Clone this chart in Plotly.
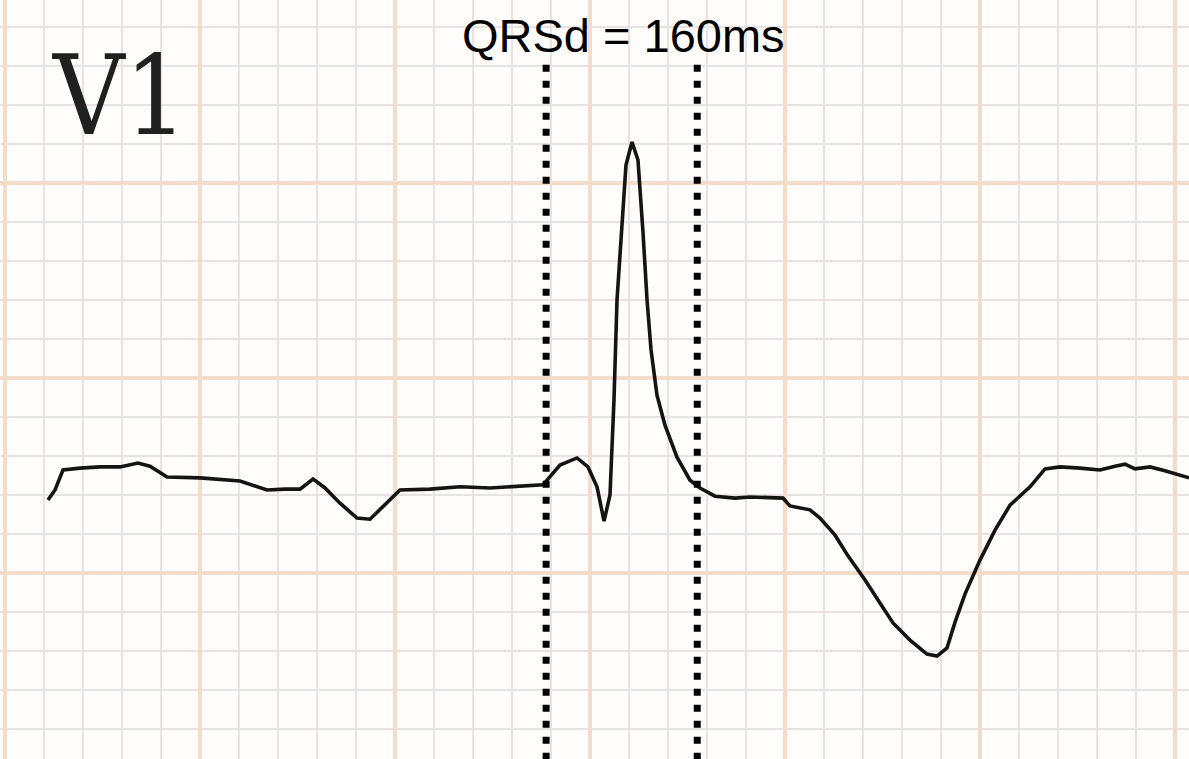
import plotly.graph_objects as go

# ECG lead V1 trace: time in ms, amplitude in mV
time_ms = [44.1, 51.3, 59.5, 76.9, 97.4, 117.9, 136.4, 148.7, 166.2, 200.0,
           241.0, 268.7, 287.2, 302.6, 315.9, 328.2, 343.6, 361.0, 374.4, 389.7,
           405.1, 435.9, 466.7, 497.4, 528.2, 551.8, 569.2, 586.7, 597.9, 607.2,
           614.4, 620.5, 624.6, 627.7, 631.8, 636.9, 643.1, 649.2, 654.4, 658.5,
           662.6, 668.7, 676.9, 689.2, 702.6, 712.8, 728.2, 748.7, 764.1, 797.9,
           805.1, 825.6, 835.9, 851.3, 864.6, 882.1, 897.4, 910.8, 928.2, 945.6,
           955.9, 966.2, 974.4, 984.6, 1000.0, 1015.4, 1030.8, 1051.3, 1066.7, 1082.1,
           1102.6, 1123.1, 1138.5, 1148.7, 1159.0, 1174.4, 1189.7, 1214.4]
amp_mv = [-0.313, -0.287, -0.236, -0.231, -0.228, -0.228, -0.218, -0.226, -0.254, -0.256,
          -0.264, -0.287, -0.285, -0.285, -0.259, -0.282, -0.321, -0.359, -0.362, -0.326,
          -0.287, -0.285, -0.279, -0.282, -0.277, -0.274, -0.223, -0.205, -0.228, -0.279,
          -0.367, -0.300, -0.056, 0.200, 0.354, 0.546, 0.605, 0.559, 0.372, 0.200,
          0.072, -0.044, -0.121, -0.203, -0.262, -0.282, -0.303, -0.308, -0.305, -0.308,
          -0.328, -0.338, -0.359, -0.403, -0.456, -0.518, -0.577, -0.628, -0.672, -0.708,
          -0.713, -0.692, -0.626, -0.554, -0.467, -0.390, -0.326, -0.279, -0.233, -0.228,
          -0.231, -0.236, -0.226, -0.221, -0.233, -0.228, -0.238, -0.256]

# QRS duration markers (ms)
qrs_bounds_ms = [555, 710]
qrs_marker_top_mv = 0.803
qrs_marker_bottom_mv = -1.1
qrs_label = "QRSd = 160ms"
lead_label = "V1"

x_range = [-5.13, 1214.36]
y_range = [-0.9769, 0.9692]

fig = go.Figure()

fig.add_trace(go.Scatter(
    x=time_ms, y=amp_mv, mode="lines",
    line=dict(color="#141414", width=3.6),
    hoverinfo="skip", showlegend=False,
))

for xb in qrs_bounds_ms:
    fig.add_trace(go.Scatter(
        x=[xb, xb], y=[qrs_marker_top_mv, qrs_marker_bottom_mv], mode="lines",
        line=dict(color="#000000", width=7, dash="7px,9px"),
        hoverinfo="skip", showlegend=False,
    ))

fig.add_annotation(
    x=(qrs_bounds_ms[0] + qrs_bounds_ms[1]) / 2 + 2, y=0.879,
    xref="x", yref="y", text=qrs_label, showarrow=False,
    font=dict(family="Liberation Sans, Arial, sans-serif", size=47, color="#000000"),
    xanchor="center", yanchor="middle",
)

fig.add_annotation(
    x=117.0, y=0.722, xref="x", yref="y", text=lead_label, showarrow=False,
    font=dict(family="DejaVu Serif Condensed, Liberation Serif, serif", size=110, color="#202020"),
    xanchor="center", yanchor="middle",
)

fig.update_xaxes(
    range=x_range, showticklabels=False, ticks="", zeroline=False,
    showgrid=True, tick0=0, dtick=200, gridcolor="#f4dccb", gridwidth=4,
    minor=dict(tick0=0, dtick=40, showgrid=True, gridcolor="#e9e2e2", gridwidth=2),
    showline=False, fixedrange=True,
)
fig.update_yaxes(
    range=y_range, showticklabels=False, ticks="", zeroline=False,
    showgrid=True, tick0=0, dtick=0.5, gridcolor="#f4dccb", gridwidth=4,
    minor=dict(tick0=0, dtick=0.1, showgrid=True, gridcolor="#e9e2e2", gridwidth=2),
    showline=False, fixedrange=True,
)

fig.update_layout(
    width=1189, height=759,
    margin=dict(l=0, r=0, t=0, b=0),
    paper_bgcolor="#fffdfb", plot_bgcolor="#fffdfb",
    hovermode=False,
)

fig.write_html("out.html", config={"displayModeBar": False})
